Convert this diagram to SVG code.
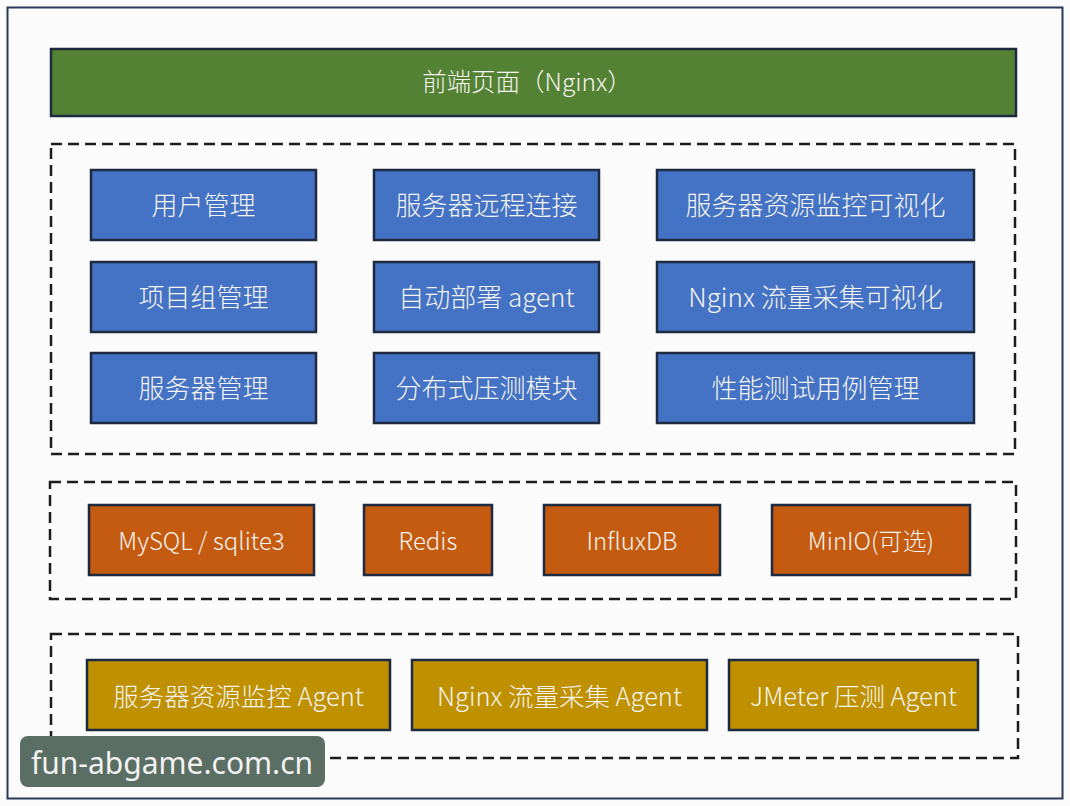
<svg xmlns="http://www.w3.org/2000/svg" width="1070" height="806" viewBox="0 0 1070 806">
<style>
.box{stroke:#1e2a40;stroke-width:2.5}
.green{fill:#548235}
.blue{fill:#4472c4}
.orange{fill:#c55a11}
.gold{fill:#bf9000}
.dash{fill:none;stroke:#1c1c1c;stroke-width:2.5;stroke-dasharray:11 6}
.t{font-family:"Noto Sans CJK SC","Noto Sans",sans-serif;font-weight:300;fill:#f4f4ee;text-anchor:middle;dominant-baseline:central}
.m{font-size:26px}
.o{font-size:24px}
.g{font-size:25.5px}
.s{font-size:24.5px}
</style>
<rect x="0" y="0" width="1070" height="806" fill="#fbfbfb"/>
<rect x="7.5" y="7.5" width="1055" height="791" fill="#fbfbfb" stroke="#2b3a5a" stroke-width="2"/>
<g id="groups">
<rect class="dash" x="51" y="144" width="964" height="310"/>
<rect class="dash" x="50" y="482" width="966" height="117"/>
<rect class="dash" x="51" y="634" width="967" height="124"/>
</g>
<g id="connectors"></g>
<g id="frontend"><rect class="box green" x="51" y="49" width="965" height="67"/><text class="t s" x="527" y="80">前端页面（Nginx）</text></g>
<g id="n-user"><rect class="box blue" x="91" y="170" width="225" height="70"/><text class="t m" x="203.5" y="203">用户管理</text></g>
<g id="n-remote"><rect class="box blue" x="374" y="170" width="225" height="70"/><text class="t m" x="486.5" y="203">服务器远程连接</text></g>
<g id="n-monitor-vis"><rect class="box blue" x="657" y="170" width="317" height="70"/><text class="t m" x="815.5" y="203">服务器资源监控可视化</text></g>
<g id="n-project"><rect class="box blue" x="91" y="262" width="225" height="70"/><text class="t m" x="203.5" y="295">项目组管理</text></g>
<g id="n-deploy"><rect class="box blue" x="374" y="262" width="225" height="70"/><text class="t m" x="486.5" y="295">自动部署 agent</text></g>
<g id="n-nginx-vis"><rect class="box blue" x="657" y="262" width="317" height="70"/><text class="t m" x="815.5" y="295">Nginx 流量采集可视化</text></g>
<g id="n-server"><rect class="box blue" x="91" y="353" width="225" height="70"/><text class="t m" x="203.5" y="386">服务器管理</text></g>
<g id="n-stress"><rect class="box blue" x="374" y="353" width="225" height="70"/><text class="t m" x="486.5" y="386">分布式压测模块</text></g>
<g id="n-cases"><rect class="box blue" x="657" y="353" width="317" height="70"/><text class="t m" x="815.5" y="386">性能测试用例管理</text></g>
<g id="n-mysql"><rect class="box orange" x="89" y="505" width="225" height="70"/><text class="t o" x="201.5" y="539">MySQL / sqlite3</text></g>
<g id="n-redis"><rect class="box orange" x="364" y="505" width="128" height="70"/><text class="t o" x="428" y="539">Redis</text></g>
<g id="n-influx"><rect class="box orange" x="544" y="505" width="176" height="70"/><text class="t o" x="632" y="539">InfluxDB</text></g>
<g id="n-minio"><rect class="box orange" x="772" y="505" width="198" height="70"/><text class="t o" x="871" y="539">MinIO(可选)</text></g>
<g id="n-agent-monitor"><rect class="box gold" x="87" y="660" width="303" height="70"/><text class="t g" x="238.5" y="694">服务器资源监控 Agent</text></g>
<g id="n-agent-nginx"><rect class="box gold" x="412" y="660" width="295" height="70"/><text class="t g" x="559.5" y="694">Nginx 流量采集 Agent</text></g>
<g id="n-agent-jmeter"><rect class="box gold" x="729" y="660" width="249" height="70"/><text class="t g" x="853.5" y="694">JMeter 压测 Agent</text></g>
<g id="watermark"><rect x="20" y="736" width="305" height="51" rx="8" fill="#5b6e63"/><text x="172" y="762" font-family="'Noto Sans','Open Sans',sans-serif" font-size="30" fill="#f2f2f2" text-anchor="middle" dominant-baseline="central">fun-abgame.com.cn</text></g>
</svg>
